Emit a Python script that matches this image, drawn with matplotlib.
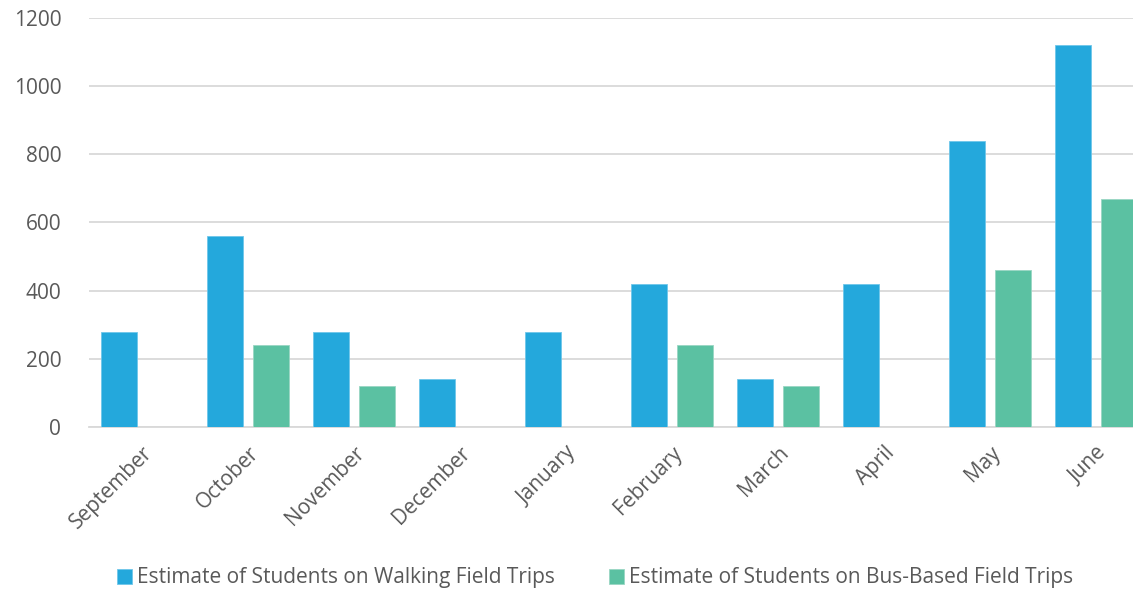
import numpy as np
import matplotlib.pyplot as plt

months = ["September", "October", "November", "December", "January",
          "February", "March", "April", "May", "June"]
walking = [280, 560, 280, 140, 280, 420, 140, 420, 840, 1120]
bus = [0, 240, 120, 0, 0, 240, 120, 0, 460, 670]
yticks = [0, 200, 400, 600, 800, 1000, 1200]

blue = "#24a8dc"
green = "#5bc1a2"
grey = "#595959"

plt.rcParams['font.family'] = ['Open Sans', 'DejaVu Sans']

fig = plt.figure(figsize=(11.33, 5.89), dpi=100)
ax = fig.add_axes([89 / 1133, 1 - 427 / 589, 1060 / 1133, 409 / 589])

x = np.arange(len(months))
w = 0.34
ax.bar(x - 0.217, walking, w, color=blue, edgecolor="#6fc6ea", linewidth=0.6,
       label="Estimate of Students on Walking Field Trips", zorder=3)
ax.bar(x + 0.217, bus, w, color=green, edgecolor="#9ad6c3", linewidth=0.6,
       label="Estimate of Students on Bus-Based Field Trips", zorder=3)

ax.set_xlim(-0.5, len(months) - 0.5)
ax.set_ylim(0, 1200)
ax.set_yticks(yticks)
ax.set_yticklabels([str(v) for v in yticks], fontsize=15, color=grey)
ax.set_xticks(x)
ax.set_xticklabels(months, rotation=45, ha="right", rotation_mode="anchor",
                   fontsize=15, color=grey)
ax.tick_params(axis="y", length=0, pad=20)
ax.tick_params(axis="x", length=0, pad=11)
ax.grid(axis="y", color="#d9d9d9", linewidth=1.3, zorder=0)
for s in ["top", "right", "left"]:
    ax.spines[s].set_visible(False)
ax.spines["bottom"].set_color("#d9d9d9")
ax.spines["bottom"].set_linewidth(1.3)

leg = fig.legend(loc="center", bbox_to_anchor=(595 / 1133, 1 - 578 / 589),
                 ncol=2, frameon=False, fontsize=15, handlelength=0.7,
                 handleheight=0.7, handletextpad=0.25, columnspacing=2.6)
for t in leg.get_texts():
    t.set_color(grey)

fig.savefig("out.png", dpi=100)
